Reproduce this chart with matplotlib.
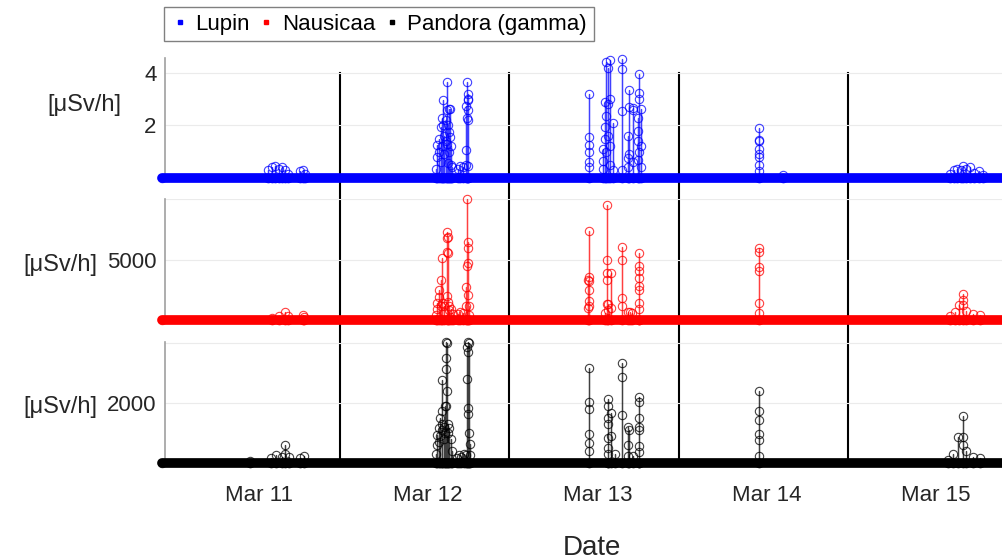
import numpy as np
import matplotlib
matplotlib.use("Agg")
import matplotlib.pyplot as plt
from matplotlib.lines import Line2D
from matplotlib.transforms import blended_transform_factory

plt.rcParams['font.family'] = ['Liberation Sans', 'DejaVu Sans']

# === time axis: decimal day of March ===
start_time = 10.95
end_time = 15.95
day_lines = [12, 13, 14, 15]
tick_pos = [11.52, 12.52, 13.52, 14.52, 15.52]
tick_labels = ["Mar 11", "Mar 12", "Mar 13", "Mar 14", "Mar 15"]

# === Lupin [uSv/h] : spike times and the readings along each spike ===
lupin_t = [11.575, 11.596, 11.616, 11.637, 11.657, 11.675, 11.693, 11.764, 11.779, 11.793,
           12.565, 12.573, 12.585, 12.596, 12.604, 12.608, 12.616, 12.624, 12.630, 12.636,
           12.644, 12.650, 12.656, 12.664,
           12.695, 12.710, 12.725,
           12.743, 12.748, 12.753, 12.758,
           13.471,
           13.552, 13.565, 13.572, 13.583, 13.595, 13.613,
           13.664, 13.703, 13.709, 13.731, 13.762, 13.768, 13.775,
           14.477, 14.615,
           15.603, 15.625, 15.645, 15.665, 15.682, 15.700, 15.720, 15.745, 15.775, 15.798]
lupin_v = [[0.3], [0.4], [0.45], [0.35], [0.4], [0.3], [0.15], [0.25], [0.29], [0.15],
           [0.36], [1.26, 0.8], [1.5, 1.0], [1.94, 0.6], [2.3, 1.2], [2.97, 2.0], [1.6, 0.9],
           [2.2, 1.4], [3.64, 2.6, 1.3], [2.0, 0.57], [1.74, 2.64, 1.0], [2.64, 1.58], [1.2, 0.5], [0.4],
           [0.35], [0.45], [0.4],
           [0.5, 2.75, 1.05], [3.64, 2.3], [3.2, 2.98, 2.6], [3.0, 2.2, 0.46],
           [0.4, 0.6, 1.0, 1.25, 1.58, 3.19],
           [0.34, 0.64, 1.1], [2.9, 1.94, 1.5], [4.43, 2.36, 1.0], [4.2, 2.8, 1.6],
           [4.5, 3.0, 1.2, 0.5], [2.1, 0.3],
           [4.55, 4.17, 2.54, 0.3], [1.6, 0.75, 0.4], [3.37, 2.71, 0.9], [2.65, 2.6, 0.6],
           [2.3, 1.8, 1.4, 0.7], [3.96, 3.25, 3.0, 1.0], [2.62, 1.2, 0.4],
           [1.9, 1.4, 1.45, 1.1, 0.93, 0.8, 0.5, 0.25], [0.1],
           [0.15], [0.3], [0.35], [0.3], [0.45], [0.35], [0.4], [0.2], [0.25], [0.1]]

# === Nausicaa ===
nausicaa_t = [11.600, 11.640, 11.675, 11.690, 11.780, 11.790,
              12.565, 12.575, 12.587, 12.597, 12.604, 12.615, 12.632, 12.637, 12.645, 12.655, 12.665,
              12.695, 12.710, 12.725,
              12.745, 12.748, 12.755, 12.762,
              13.465, 13.471, 13.565, 13.575, 13.580, 13.599, 13.664,
              13.700, 13.715, 13.725, 13.765, 13.768,
              14.477,
              15.600, 15.630, 15.655, 15.680, 15.700, 15.740, 15.780]
nausicaa_v = [[200], [350], [700], [300], [450], [250],
              [400], [1400, 900], [2500, 1870], [3280, 1150], [5100, 1400], [1150, 700],
              [7263, 6795, 5623, 2000], [6900, 5500, 1500], [1150, 800], [900], [500],
              [500], [700], [600],
              [1150, 2760], [9970, 4450], [6460, 5980, 4710, 2100], [1150, 400],
              [3300, 1000], [1150, 1590, 2500, 3200, 3540, 7320], [600],
              [9530, 4970, 3880, 3330, 1330], [1300, 800], [3880, 1000], [6010, 4920, 1850, 1170],
              [700], [700], [600], [4060, 3500, 2500, 1400], [5570, 4450, 2800, 900],
              [5960, 5630, 4400, 4010, 1380, 600],
              [300], [700], [1270], [2110, 1650, 1270], [780], [500], [400]]

# === Pandora (gamma) ===
pandora_t = [11.470, 11.590, 11.620, 11.655, 11.675, 11.700, 11.765, 11.785,
             12.565, 12.575, 12.582, 12.590, 12.600, 12.605, 12.615, 12.622, 12.628, 12.632,
             12.640, 12.645, 12.655, 12.662,
             12.690, 12.700, 12.715, 12.730,
             12.745, 12.752, 12.757, 12.762, 12.768,
             13.471, 13.580, 13.585, 13.600, 13.624, 13.664, 13.700, 13.705, 13.731, 13.765, 13.768,
             14.477,
             15.590, 15.620, 15.650, 15.678, 15.700, 15.740, 15.780]
pandora_v = [[60], [150], [250], [200], [600, 300], [200], [150], [220],
             [300], [930, 600], [1150, 700], [1500, 900], [1730, 1100], [2780, 1300], [1200, 800],
             [1890, 1000], [4040, 3500, 3130, 1890], [4000, 2400], [1300, 1000], [1150], [800], [400],
             [150], [250], [200], [300],
             [250], [3880, 2800], [4040, 3690, 1820, 1630], [4000, 1000], [635, 250],
             [400, 660, 980, 1790, 2030, 3180], [2140, 1890, 1300, 820], [1500, 500, 300], [1670, 900],
             [310], [3340, 2880, 1600], [1190, 600, 230], [1090], [230],
             [2210, 1500, 1190, 560], [2030, 1100, 350],
             [2400, 1730, 1430, 980, 760, 230],
             [100], [300], [870], [1570, 870, 600], [390], [200], [150]]


def build_series(spike_t, spike_v):
    t, v = [start_time], [0.0]
    for ts, vals in zip(spike_t, spike_v):
        t += [ts] * (len(vals) + 2)
        v += [0.0] + list(vals) + [0.0]
    t.append(end_time)
    v.append(0.0)
    return np.array(t), np.array(v)


W, H = 1002, 559
fig = plt.figure(figsize=(W / 100, H / 100), dpi=100)

# panel pixel boxes (top, bottom) in image rows
panels = [
    dict(t=lupin_t, v=lupin_v, color="blue", box=(58, 178), ylim=(0.286, 4.57),
         yticks=[0, 2, 4], ylabels=["", "2", "4"], lab=(-0.096, 0.61)),
    dict(t=nausicaa_t, v=nausicaa_v, color="red", box=(199, 320), ylim=(547, 10000),
         yticks=[0, 5000, 10000], ylabels=["", "5000", ""], lab=(-0.125, 0.455)),
    dict(t=pandora_t, v=pandora_v, color="black", box=(342, 463), ylim=(129, 4032),
         yticks=[0, 2000, 4000], ylabels=["", "2000", ""], lab=(-0.125, 0.463)),
]

axes = []
for p in panels:
    top, bot = p["box"]
    ax = fig.add_axes([165 / W, 1 - bot / H, 837 / W, (bot - top) / H])
    ax.set_facecolor("none")
    t, v = build_series(p["t"], p["v"])
    ax.plot([t[0], t[-1]], [0, 0], color=p["color"], lw=7, solid_capstyle="round",
            clip_on=False, zorder=3)
    ax.plot(t, v, color=p["color"], lw=0.9, alpha=0.75, marker="o", ms=6, mfc="none",
            mew=0.8, clip_on=False, zorder=4)
    ax.set_xlim(10.966, 15.91)
    ax.set_ylim(*p["ylim"])
    ax.set_yticks(p["yticks"], p["ylabels"])
    ax.tick_params(axis="y", length=0, pad=6, labelsize=16, labelcolor="#262626")
    ax.grid(axis="y", color="#ebebeb", lw=0.8)
    ax.set_axisbelow(True)
    for s in ["top", "right", "bottom"]:
        ax.spines[s].set_visible(False)
    ax.spines["left"].set_color("#a0a0a0")
    ax.spines["left"].set_linewidth(1.2)
    ax.set_ylabel("[\u03bcSv/h]", rotation=0, fontsize=17, color="#262626", ha="center", va="center")
    ax.yaxis.set_label_coords(*p["lab"])
    ax.set_xticks([])
    axes.append(ax)

ax_bot = axes[-1]
ax_bot.set_xticks(tick_pos, tick_labels)
ax_bot.tick_params(axis="x", length=0, pad=16, labelsize=16, labelcolor="#262626")
ax_bot.set_xlabel("Date", fontsize=20, color="#262626", va="center")
ax_bot.xaxis.set_label_coords(0.51, -0.7)

# day boundary lines running through all three panels
inv = fig.transFigure.inverted()
y_top = inv.transform(axes[0].transData.transform((0, 4)))[1]
y_bot = inv.transform(ax_bot.transData.transform((0, 0)))[1]
trans = blended_transform_factory(ax_bot.transData, fig.transFigure)
for d in day_lines:
    fig.lines.append(Line2D([d, d], [y_bot, y_top], transform=trans, color="black",
                            lw=1.5, zorder=-1))

handles = [Line2D([], [], ls="none", marker="s", ms=3, color=c) for c in ["blue", "red", "black"]]
fig.legend(handles, ["Lupin", "Nausicaa", "Pandora (gamma)"], ncol=3,
           loc="upper left", bbox_to_anchor=(164 / W, 1 - 7 / H), fontsize=16,
           frameon=True, fancybox=False, edgecolor="#808080", framealpha=1,
           handlelength=0.8, handletextpad=0.3, columnspacing=0.35, borderpad=0.3,
           borderaxespad=0)

fig.savefig("out.png", dpi=100)
